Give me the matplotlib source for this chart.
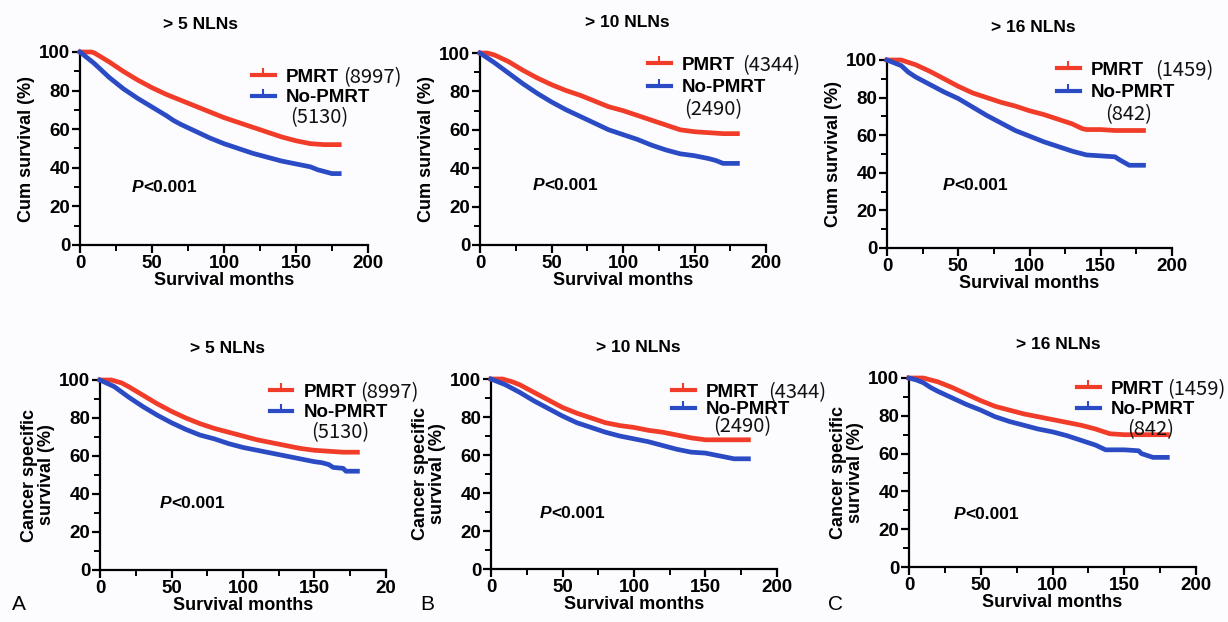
import matplotlib
matplotlib.use("Agg")
import matplotlib.pyplot as plt
from matplotlib.lines import Line2D

plt.rcParams["font.family"] = ["Liberation Sans", "DejaVu Sans"]

RED = "#f03c28"
BLUE = "#2b4bc4"
BG = "#fcfcfe"

# ---- data (months, survival %) ----
# top row: overall survival
os5_pmrt_t = [0, 8, 10, 20, 30, 40, 50, 60, 70, 80, 90, 100, 110, 120, 130, 140, 150, 160, 170, 180]
os5_pmrt_s = [100, 100, 99.5, 95, 90, 85.5, 81.5, 78, 75, 72, 69, 66, 63.5, 61, 58.5, 56, 54, 52.5, 52, 52]
os5_no_t = [0, 10, 20, 30, 40, 50, 60, 65, 70, 80, 90, 100, 110, 120, 130, 140, 150, 160, 165, 170, 175, 180]
os5_no_s = [100, 94, 87, 81, 76, 71.5, 67, 64.5, 62.5, 59, 55.5, 52.5, 50, 47.5, 45.5, 43.5, 42, 40.5, 39, 38, 37, 37]

os10_pmrt_t = [0, 5, 10, 20, 30, 40, 50, 60, 70, 80, 90, 100, 110, 120, 130, 140, 150, 160, 170, 180]
os10_pmrt_s = [100, 100, 99, 95.5, 91, 87, 83.5, 80.5, 78, 75, 72, 70, 67.5, 65, 62.5, 60, 59, 58.5, 58, 58]
os10_no_t = [0, 10, 20, 30, 40, 50, 60, 70, 80, 90, 100, 110, 120, 130, 140, 150, 160, 165, 170, 180]
os10_no_s = [100, 95, 89.5, 84, 79, 74.5, 70.5, 67, 63.5, 60, 57.5, 55, 52, 49.5, 47.5, 46.5, 45, 44, 42.5, 42.5]

os16_pmrt_t = [0, 10, 20, 30, 40, 50, 60, 70, 80, 90, 100, 110, 120, 130, 137, 140, 150, 160, 170, 180]
os16_pmrt_s = [100, 100, 97.5, 94, 90, 86, 82.5, 80, 77.5, 75.5, 73, 71, 68.5, 66, 63.5, 63, 63, 62.5, 62.5, 62.5]
os16_no_t = [0, 5, 10, 15, 20, 30, 40, 50, 60, 70, 80, 90, 100, 110, 120, 130, 140, 150, 160, 163, 170, 180]
os16_no_s = [100, 98.5, 97, 93.5, 91, 87, 83, 79.5, 75, 70.5, 66.5, 62.5, 59.5, 56.5, 54, 51.5, 49.5, 49, 48.5, 47, 44, 44]

# bottom row: cancer specific survival
cs5_pmrt_t = [0, 8, 15, 20, 30, 40, 50, 60, 70, 80, 90, 100, 110, 120, 130, 140, 150, 160, 170, 180]
cs5_pmrt_s = [100, 100, 98.5, 96.5, 92, 87.5, 83.5, 80, 77, 74.5, 72.5, 70.5, 68.5, 67, 65.5, 64, 63, 62.5, 62, 62]
cs5_no_t = [0, 10, 20, 30, 40, 50, 60, 70, 80, 90, 100, 110, 120, 130, 140, 150, 155, 160, 163, 170, 172, 180]
cs5_no_s = [100, 96.5, 91, 86, 81.5, 77.5, 74, 71, 69, 66.5, 64.5, 63, 61.5, 60, 58.5, 57, 56.5, 55.5, 54, 53.5, 52, 52]

cs10_pmrt_t = [0, 8, 15, 20, 30, 40, 50, 60, 70, 80, 90, 100, 110, 120, 130, 140, 150, 160, 170, 180]
cs10_pmrt_s = [100, 100, 98.5, 97, 93, 89, 85, 82, 79.5, 77, 75.5, 74.5, 73, 72, 70.5, 69, 68, 68, 68, 68]
cs10_no_t = [0, 10, 20, 30, 40, 50, 60, 70, 80, 90, 100, 110, 120, 130, 140, 150, 160, 170, 180]
cs10_no_s = [100, 97, 93, 88.5, 84.5, 80.5, 77, 74.5, 72, 70, 68.5, 67, 65, 63, 61.5, 61, 59.5, 58, 58]

cs16_pmrt_t = [0, 10, 20, 30, 40, 50, 60, 70, 80, 90, 100, 110, 120, 130, 140, 150, 160, 170, 180]
cs16_pmrt_s = [100, 100, 98, 95, 91.5, 88, 85, 83, 81, 79.5, 78, 76.5, 75, 73, 70.5, 70, 70, 70, 70]
cs16_no_t = [0, 5, 10, 15, 20, 30, 40, 50, 60, 70, 80, 90, 100, 110, 120, 130, 137, 150, 160, 162, 170, 180]
cs16_no_s = [100, 99, 97.5, 95, 93, 89.5, 86, 83, 79.5, 77, 75, 73, 71.5, 69.5, 67, 64.5, 62, 62, 61.5, 60, 58, 58]

titles = ["> 5 NLNs", "> 10 NLNs", "> 16 NLNs", "> 5 NLNs", "> 10 NLNs", "> 16 NLNs"]
pmrt_counts = ["(8997)", "(4344)", "(1459)", "(8997)", "(4344)", "(1459)"]
no_counts = ["(5130)", "(2490)", "(842)", "(5130)", "(2490)", "(842)"]
xtick_labels = [["0", "50", "100", "150", "200"]] * 3 + [["0", "50", "100", "150", "20"]] + [["0", "50", "100", "150", "200"]] * 2
ylabels = ["Cum survival (%)"] * 3 + ["Cancer specific\nsurvival (%)"] * 3
panel_letters = ["A", "B", "C"]

curves = [
    (os5_pmrt_t, os5_pmrt_s, os5_no_t, os5_no_s),
    (os10_pmrt_t, os10_pmrt_s, os10_no_t, os10_no_s),
    (os16_pmrt_t, os16_pmrt_s, os16_no_t, os16_no_s),
    (cs5_pmrt_t, cs5_pmrt_s, cs5_no_t, cs5_no_s),
    (cs10_pmrt_t, cs10_pmrt_s, cs10_no_t, cs10_no_s),
    (cs16_pmrt_t, cs16_pmrt_s, cs16_no_t, cs16_no_s),
]

# ---- layout (pixels) ----
W, H = 1228, 622
px = [  # x0, x200, y100, y0
    (80, 368, 52, 245),
    (480, 766, 53, 245),
    (887, 1172, 60, 248),
    (100, 386, 380, 570),
    (491, 777, 379, 569),
    (909, 1196, 378, 567),
]
title_xy = [(0.42, 1.145), (0.514, 1.16), (0.512, 1.175), (0.445, 1.168), (0.514, 1.168), (0.52, 1.175)]
pval_xy = [(36, 30), (37, 31), (39, 33.5), (42, 35), (34, 29), (31, 28)]
# legend: handle start x, first row centre y, row gap, 2nd-line shift, inline count gap
leg_px = [(252, 78, 20, 4, 4), (648, 66, 22, 2, 7), (1057, 71, 22, 14, 11),
          (270, 393, 20, 7, 3), (672, 393, 17, 7, 9), (1077, 390, 20, 16, 3)]

fig = plt.figure(figsize=(W / 100, H / 100), dpi=100, facecolor=BG)
cjk = ["Noto Sans CJK SC", "DejaVu Sans"]

for i, (tp, sp, tn, sn) in enumerate(curves):
    x0, x1, y1, y0 = px[i]
    ax = fig.add_axes([x0 / W, 1 - y0 / H, (x1 - x0) / W, (y0 - y1) / H])
    ax.set_facecolor(BG)
    ax.plot(tp, sp, color=RED, lw=3.4, clip_on=False, zorder=3)
    ax.plot(tn, sn, color=BLUE, lw=3.4, clip_on=False, zorder=3)
    ax.set_xlim(0, 200)
    ax.set_ylim(0, 100)
    for s in ("top", "right"):
        ax.spines[s].set_visible(False)
    for s in ("left", "bottom"):
        ax.spines[s].set_linewidth(1.6)
    ax.set_xticks([0, 50, 100, 150, 200])
    ax.set_xticklabels(xtick_labels[i])
    ax.set_xticks([25, 75, 125, 175], minor=True)
    ax.set_yticks([0, 20, 40, 60, 80, 100])
    ax.set_yticks([10, 30, 50, 70, 90], minor=True)
    ax.tick_params(which="major", length=6, width=1.6, labelsize=13.5, pad=1)
    ax.tick_params(which="minor", length=4, width=1.4)
    for lab in ax.get_xticklabels() + ax.get_yticklabels():
        lab.set_fontweight("bold")
    ax.set_xlabel("Survival months", fontsize=13, fontweight="bold", labelpad=0)
    ax.set_ylabel(ylabels[i], fontsize=13, fontweight="bold", labelpad=3,
                  linespacing=1.0)

    tx, ty = title_xy[i]
    ax.text(tx, ty, titles[i], transform=ax.transAxes, ha="center", va="center",
            fontsize=12.5, fontweight="bold")

    pxv, pyv = pval_xy[i]
    ptxt = ax.text(pxv, pyv, "P", ha="left", va="center", fontsize=12.5,
                   fontweight="bold", fontstyle="italic")
    ax.annotate("<0.001", xy=(1, 0.5), xycoords=ptxt, ha="left", va="center",
                fontsize=12.5, fontweight="bold")

    # legend
    lx, ly, gap, indent, inl = leg_px[i]
    fs = 13.5
    handles = [Line2D([], [], color=RED, lw=3, marker=2, markersize=5, markeredgewidth=1.5),
               Line2D([], [], color=BLUE, lw=3, marker=2, markersize=5, markeredgewidth=1.5)]
    row_h = fs * 100 / 72
    leg = ax.legend(handles, ["PMRT", "No-PMRT"], loc="upper left",
                    bbox_to_anchor=((lx - x0) / (x1 - x0), (y0 - (ly - row_h / 2)) / (y0 - y1)),
                    frameon=False, borderpad=0, borderaxespad=0, handlelength=1.2,
                    handletextpad=0.6, labelspacing=max(gap - 16.5, 0) / row_h,
                    prop={"weight": "bold", "size": fs, "family": "Liberation Sans"})
    leg.set_zorder(5)
    t_p, t_n = leg.get_texts()
    ax.annotate(pmrt_counts[i], xy=(1, 0.5), xycoords=t_p, xytext=(inl * 0.72, 0),
                textcoords="offset points", ha="left", va="center",
                fontsize=14.5, family=cjk, color="#111111", zorder=7)
    ax.annotate(no_counts[i], xy=(0, 0.5), xycoords=t_n, xytext=(indent * 0.72, -gap * 0.72),
                textcoords="offset points", ha="left", va="center",
                fontsize=14.5, family=cjk, color="#111111", zorder=7)

for k, letter in enumerate(panel_letters):
    fig.text((12 + 408 * k) / W, 1 - 605 / H, letter, fontsize=15, ha="left", va="center")

fig.savefig("out.png", dpi=100, facecolor=BG)
